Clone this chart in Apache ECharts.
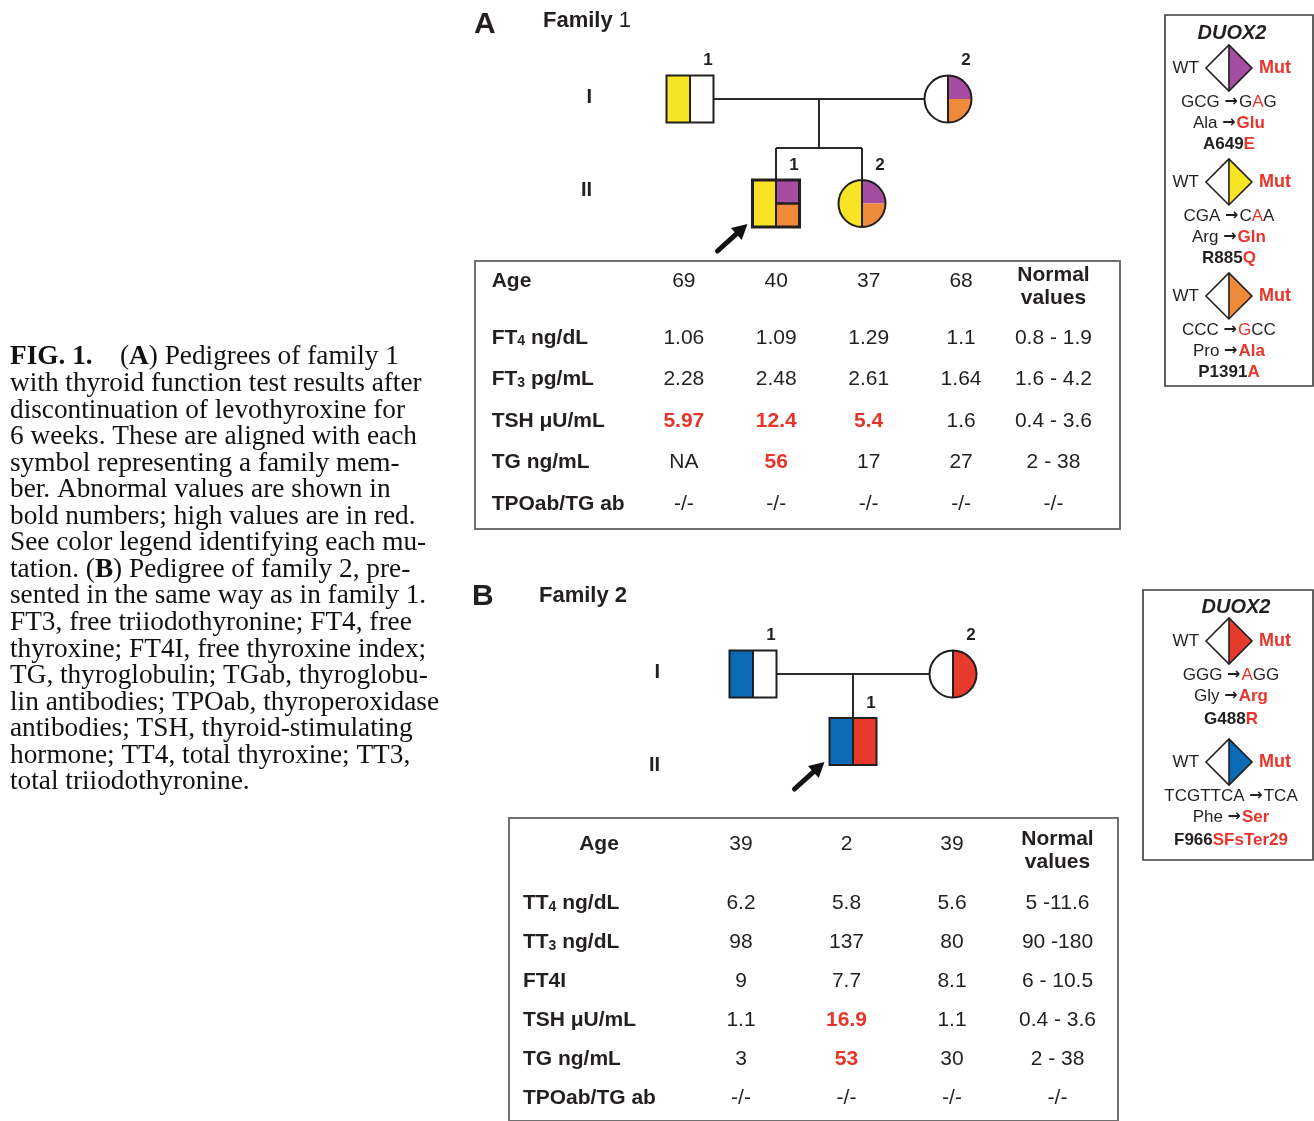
<!DOCTYPE html>
<html>
<head>
<meta charset="utf-8">
<script src="https://cdn.jsdelivr.net/npm/echarts@6/dist/echarts.min.js"></script>
<style>
html,body{margin:0;padding:0;background:#ffffff;}
#chart{width:1314px;height:1121px;}
</style>
</head>
<body>
<div id="chart"></div>
<script>
// ================= DATA =================
const generations = ['I', 'II'];

// Family 1 pedigree members (col = table column of the member, gen = generation index)
const famA_members = [
  { name: 'I-1',  gen: 0, col: 1, sex: 'M', left: 'R885Q', rightTop: null,    rightBottom: null,     num: '1' },
  { name: 'II-1', gen: 1, col: 2, sex: 'M', left: 'R885Q', rightTop: 'A649E', rightBottom: 'P1391A', num: '1', proband: true },
  { name: 'II-2', gen: 1, col: 3, sex: 'F', left: 'R885Q', rightTop: 'A649E', rightBottom: 'P1391A', num: '2' },
  { name: 'I-2',  gen: 0, col: 4, sex: 'F', left: null,    rightTop: 'A649E', rightBottom: 'P1391A', num: '2' }
];
const famA_ages = ['69', '40', '37', '68'];
const famA_tests = ['FT{s|4} ng/dL', 'FT{s|3} pg/mL', 'TSH μU/mL', 'TG ng/mL', 'TPOab/TG ab'];
const famA_values = [
  ['1.06', '1.09', '1.29', '1.1'],
  ['2.28', '2.48', '2.61', '1.64'],
  ['5.97', '12.4', '5.4', '1.6'],
  ['NA', '56', '17', '27'],
  ['-/-', '-/-', '-/-', '-/-']
];
const famA_normal = ['0.8 - 1.9', '1.6 - 4.2', '0.4 - 3.6', '2 - 38', '-/-'];
const famA_upper = [1.9, 4.2, 3.6, 38, null];
const famA_legend = ['A649E', 'R885Q', 'P1391A'];

// Family 2
const famB_members = [
  { name: 'I-1',  gen: 0, col: 1, sex: 'M', left: 'F966SFsTer29', rightTop: null,    rightBottom: null,    num: '1' },
  { name: 'II-1', gen: 1, col: 2, sex: 'M', left: 'F966SFsTer29', rightTop: 'G488R', rightBottom: 'G488R', num: '1', proband: true },
  { name: 'I-2',  gen: 0, col: 3, sex: 'F', left: null,           rightTop: 'G488R', rightBottom: 'G488R', num: '2' }
];
const famB_ages = ['39', '2', '39'];
const famB_tests = ['TT{s|4} ng/dL', 'TT{s|3} ng/dL', 'FT4I', 'TSH μU/mL', 'TG ng/mL', 'TPOab/TG ab'];
const famB_values = [
  ['6.2', '5.8', '5.6'],
  ['98', '137', '80'],
  ['9', '7.7', '8.1'],
  ['1.1', '16.9', '1.1'],
  ['3', '53', '30'],
  ['-/-', '-/-', '-/-']
];
const famB_normal = ['5 -11.6', '90 -180', '6 - 10.5', '0.4 - 3.6', '2 - 38', '-/-'];
const famB_upper = [11.6, 180, 10.5, 3.6, 38, null];
const famB_legend = ['G488R', 'F966SFsTer29'];

// Mutation descriptions ([..] = mutated part, shown in red)
const mutationText = {
  'A649E':        ['GCG → G[A]G', 'Ala → [Glu]', 'A649[E]'],
  'R885Q':        ['CGA → C[A]A', 'Arg → [Gln]', 'R885[Q]'],
  'P1391A':       ['CCC → [G]CC', 'Pro → [Ala]', 'P1391[A]'],
  'G488R':        ['GGG → [A]GG', 'Gly → [Arg]', 'G488[R]'],
  'F966SFsTer29': ['TCGTTCA → TCA', 'Phe → [Ser]', 'F966[SFsTer29]']
};

const captionLines = [
  '{b|FIG. 1.}    ({b|A}) Pedigrees of family 1',
  'with thyroid function test results after',
  'discontinuation of levothyroxine for',
  '6 weeks. These are aligned with each',
  'symbol representing a family mem-',
  'ber. Abnormal values are shown in',
  'bold numbers; high values are in red.',
  'See color legend identifying each mu-',
  'tation. ({b|B}) Pedigree of family 2, pre-',
  'sented in the same way as in family 1.',
  'FT3, free triiodothyronine; FT4, free',
  'thyroxine; FT4I, free thyroxine index;',
  'TG, thyroglobulin; TGab, thyroglobu-',
  'lin antibodies; TPOab, thyroperoxidase',
  'antibodies; TSH, thyroid-stimulating',
  'hormone; TT4, total thyroxine; TT3,',
  'total triiodothyronine.'
];

// ================= STYLE / LAYOUT =================
const STYLE = {
  sans: '"Liberation Sans", Arial, Helvetica, sans-serif',
  serif: '"Liberation Serif", "Times New Roman", serif',
  arrowFont: '"DejaVu Sans", sans-serif',
  ink: '#231f20',
  red: '#e8352b',
  tableBorder: '#707070',
  legendBorder: '#3a3a3a'
};
const MUT_COLOR = {
  'A649E': '#a64ca3',
  'R885Q': '#f6e425',
  'P1391A': '#f08a3b',
  'G488R': '#e63a2c',
  'F966SFsTer29': '#0b6bb6'
};
const LAYOUT = {
  pedA: { grid: { left: 475, top: 99, width: 645, height: 104.5 }, x: [-1.5, 6], genOffset: -125,
          genPad: [[0, 0, 4, 0], [0, 0, 27, 0]], sibFrac: 0.47, size: 47 },
  tabA: { grid: { left: 475, top: 261, width: 645, height: 268 }, x: [-1.26, 5.72], y: [-0.855, 5.60],
          labelCol: -1.08, headerRow: -0.37, headerLabelCol: -1.08, headerLabelAlign: 'left', normalShift: 6 },
  legA: { grid: { left: 1165, top: 15, width: 148, height: 371 }, y: [-0.465, 2.79], diamondX: 0.432,
          lines: [34, 55, 76], textShift: 0 },
  pedB: { grid: { left: 509, top: 674, width: 609, height: 67.5 }, x: [-1.44, 4.65], genOffset: -159,
          genPad: [[0, 0, 4, 0], [47, 0, 0, 0]], sibFrac: 0.5, size: 47 },
  tabB: { grid: { left: 509, top: 818, width: 609, height: 306 }, x: [-1.199, 4.5735], y: [-1.183, 6.584],
          labelCol: -1.067, headerRow: -0.523, headerLabelCol: -0.346, headerLabelAlign: 'center', normalShift: 6.5 },
  legB: { grid: { left: 1143, top: 590, width: 170, height: 270 }, y: [-0.4215, 1.81], diamondX: 0.506,
          lines: [34, 55, 78], textShift: 2 }
};

// ================= RENDER HELPERS =================
function fillOf(k) { return k ? MUT_COLOR[k] : '#ffffff'; }

function memberGraphic(m, cx, cy, size) {
  const h = size / 2, ink = STYLE.ink, lw = 2;
  const ch = [];
  if (m.sex === 'M') {
    ch.push({ type: 'rect', shape: { x: cx - h, y: cy - h, width: h, height: size }, style: { fill: fillOf(m.left) } });
    if (m.rightTop === m.rightBottom) {
      ch.push({ type: 'rect', shape: { x: cx, y: cy - h, width: h, height: size }, style: { fill: fillOf(m.rightTop) } });
    } else {
      ch.push({ type: 'rect', shape: { x: cx, y: cy - h, width: h, height: h }, style: { fill: fillOf(m.rightTop) } });
      ch.push({ type: 'rect', shape: { x: cx, y: cy, width: h, height: h }, style: { fill: fillOf(m.rightBottom) } });
      ch.push({ type: 'line', shape: { x1: cx, y1: cy, x2: cx + h, y2: cy }, style: { stroke: ink, lineWidth: lw + 0.5 } });
    }
    ch.push({ type: 'line', shape: { x1: cx, y1: cy - h, x2: cx, y2: cy + h }, style: { stroke: ink, lineWidth: lw } });
    ch.push({ type: 'rect', shape: { x: cx - h, y: cy - h, width: size, height: size },
              style: { fill: 'transparent', stroke: ink, lineWidth: m.proband && m.rightTop !== m.rightBottom ? 3 : lw } });
  } else {
    const r = h;
    ch.push({ type: 'sector', shape: { cx, cy, r, r0: 0, startAngle: Math.PI / 2, endAngle: Math.PI * 1.5 }, style: { fill: fillOf(m.left) } });
    if (m.rightTop === m.rightBottom) {
      ch.push({ type: 'sector', shape: { cx, cy, r, r0: 0, startAngle: -Math.PI / 2, endAngle: Math.PI / 2 }, style: { fill: fillOf(m.rightTop) } });
    } else {
      ch.push({ type: 'sector', shape: { cx, cy, r, r0: 0, startAngle: Math.PI * 1.5, endAngle: Math.PI * 2 }, style: { fill: fillOf(m.rightTop) } });
      ch.push({ type: 'sector', shape: { cx, cy, r, r0: 0, startAngle: 0, endAngle: Math.PI / 2 }, style: { fill: fillOf(m.rightBottom) } });
    }
    ch.push({ type: 'line', shape: { x1: cx, y1: cy - r, x2: cx, y2: cy + r }, style: { stroke: ink, lineWidth: lw } });
    ch.push({ type: 'circle', shape: { cx, cy, r }, style: { fill: 'transparent', stroke: ink, lineWidth: lw } });
  }
  ch.push({ type: 'text', x: cx + 18, y: cy - h - 15,
            style: { text: m.num, fill: ink, fontSize: 17, fontWeight: 'bold', fontFamily: STYLE.sans, align: 'center', verticalAlign: 'middle' } });
  if (m.proband) {
    const bx = cx - h, by = cy + h;
    const tip = [bx - 5, by - 3], tail = [bx - 35, by + 24];
    const dx = tip[0] - tail[0], dy = tip[1] - tail[1], L = Math.hypot(dx, dy);
    const ux = dx / L, uy = dy / L, nx = -uy, ny = ux;
    const headLen = 15, headW = 8;
    const base = [tip[0] - ux * headLen, tip[1] - uy * headLen];
    ch.push({ type: 'line', shape: { x1: tail[0], y1: tail[1], x2: base[0] + ux * 2, y2: base[1] + uy * 2 },
              style: { stroke: '#111', lineWidth: 5, lineCap: 'round' } });
    ch.push({ type: 'polygon', shape: { points: [tip, [base[0] + nx * headW, base[1] + ny * headW], [base[0] - nx * headW, base[1] - ny * headW]] },
              style: { fill: '#111' } });
  }
  return { type: 'group', children: ch };
}

function pedigreeSeries(members, lay, gi) {
  const size = lay.size, h = size / 2;
  return [
    { // connecting lines
      type: 'custom', xAxisIndex: gi, yAxisIndex: gi, clip: false, silent: true, z: 2,
      data: [[0, 0]],
      renderItem: function (params, api) {
        const parents = members.filter(m => m.gen === 0).sort((a, b) => a.col - b.col);
        const kids = members.filter(m => m.gen === 1);
        const p1 = api.coord([parents[0].col, 0]), p2 = api.coord([parents[1].col, 0]);
        const midCol = (parents[0].col + parents[1].col) / 2;
        const mid = api.coord([midCol, 0]);
        const segs = [[p1[0] + h, p1[1], p2[0] - h, p2[1]]];
        const tops = kids.map(k => { const c = api.coord([k.col, 1]); return [c[0], c[1] - h]; });
        if (kids.length > 1) {
          const sib = api.coord([midCol, lay.sibFrac]);
          segs.push([mid[0], mid[1], mid[0], sib[1]]);
          const xs = tops.map(t => t[0]);
          segs.push([Math.min.apply(null, xs), sib[1], Math.max.apply(null, xs), sib[1]]);
          tops.forEach(t => segs.push([t[0], sib[1], t[0], t[1]]));
        } else {
          segs.push([mid[0], mid[1], tops[0][0], tops[0][1]]);
        }
        return { type: 'group', children: segs.map(s => ({ type: 'line', shape: { x1: s[0], y1: s[1], x2: s[2], y2: s[3] },
                 style: { stroke: '#2a2a2a', lineWidth: 2 } })) };
      }
    },
    { // member symbols
      type: 'custom', xAxisIndex: gi, yAxisIndex: gi, clip: false, silent: true, z: 3,
      data: members.map(m => [m.col, m.gen]),
      renderItem: function (params, api) {
        const m = members[params.dataIndex];
        const c = api.coord([m.col, m.gen]);
        return memberGraphic(m, c[0], c[1], size);
      }
    }
  ];
}

function tableSeries(ages, tests, values, normal, upper, lay, gi) {
  const n = ages.length, cells = [];
  cells.push({ col: lay.headerLabelCol, row: lay.headerRow, text: 'Age', kind: 'label', align: lay.headerLabelAlign });
  ages.forEach((a, i) => cells.push({ col: i + 1, row: lay.headerRow, text: a, kind: 'value' }));
  cells.push({ col: n + 1, row: lay.headerRow, text: 'Normal\nvalues', kind: 'header' });
  tests.forEach((t, r) => {
    cells.push({ col: lay.labelCol, row: r + 1, text: t, kind: 'label', align: 'left' });
    values[r].forEach((v, i) => {
      const high = upper[r] !== null && !isNaN(parseFloat(v)) && parseFloat(v) > upper[r];
      cells.push({ col: i + 1, row: r + 1, text: v, kind: high ? 'high' : 'value' });
    });
    cells.push({ col: n + 1, row: r + 1, text: normal[r], kind: 'value' });
  });
  return {
    type: 'custom', xAxisIndex: gi, yAxisIndex: gi, clip: false, silent: true, z: 3,
    data: cells.map(c => [c.col, c.row]),
    renderItem: function (params, api) {
      const c = cells[params.dataIndex];
      const p = api.coord([c.col, c.row]);
      const st = { text: c.text, fill: STYLE.ink, fontSize: 21, fontFamily: STYLE.sans, fontWeight: 'normal',
                   align: c.align || 'center', verticalAlign: 'middle' };
      let y = p[1];
      if (c.kind === 'label') {
        st.fontWeight = 'bold';
        st.rich = { s: { fontSize: 14, fontWeight: 'bold', fontFamily: STYLE.sans, fill: STYLE.ink, verticalAlign: 'bottom', lineHeight: 14, padding: [12, 0, 0, 0] } };
      } else if (c.kind === 'high') {
        st.fontWeight = 'bold';
        st.fill = STYLE.red;
      } else if (c.kind === 'header') {
        st.fontWeight = 'bold';
        st.lineHeight = 23;
        y += lay.normalShift;
      }
      return { type: 'text', x: p[0], y: y, style: st };
    }
  };
}

function legendMarkup(s) {
  return s.replace(/\[([^\]]+)\]/g, '{r|$1}').replace(/ ?→ ?/g, ' {a|→}');
}

function legendSeries(keys, lay, gi) {
  return {
    type: 'custom', xAxisIndex: gi, yAxisIndex: gi, clip: false, silent: true, z: 3,
    data: keys.map((k, i) => [lay.diamondX, i]),
    renderItem: function (params, api) {
      const key = keys[params.dataIndex];
      const c = api.coord([lay.diamondX, params.dataIndex]);
      const cx = c[0], cy = c[1], d = 23, ink = STYLE.ink;
      const txt = mutationText[key];
      const ch = [
        { type: 'polygon', shape: { points: [[cx - d, cy], [cx, cy - d], [cx, cy + d]] }, style: { fill: '#ffffff' } },
        { type: 'polygon', shape: { points: [[cx, cy - d], [cx + d, cy], [cx, cy + d]] }, style: { fill: MUT_COLOR[key] } },
        { type: 'polygon', shape: { points: [[cx - d, cy], [cx, cy - d], [cx + d, cy], [cx, cy + d]] }, style: { fill: 'transparent', stroke: ink, lineWidth: 1.6 } },
        { type: 'line', shape: { x1: cx, y1: cy - d, x2: cx, y2: cy + d }, style: { stroke: ink, lineWidth: 1.6 } },
        { type: 'text', x: cx - d - 7, y: cy, style: { text: 'WT', fill: ink, fontSize: 17, fontFamily: STYLE.sans, align: 'right', verticalAlign: 'middle' } },
        { type: 'text', x: cx + d + 7, y: cy, style: { text: 'Mut', fill: STYLE.red, fontSize: 18, fontWeight: 'bold', fontFamily: STYLE.sans, align: 'left', verticalAlign: 'middle' } }
      ];
      txt.forEach((line, i) => {
        const bold = i === 2;
        ch.push({ type: 'text', x: cx + lay.textShift, y: cy + lay.lines[i],
          style: { text: legendMarkup(line), fill: ink, fontSize: 17, fontFamily: STYLE.sans, fontWeight: bold ? 'bold' : 'normal',
                   align: 'center', verticalAlign: 'middle',
                   rich: {
                     r: { fill: STYLE.red, fontSize: 17, fontFamily: STYLE.sans, fontWeight: i === 0 ? 'normal' : 'bold' },
                     a: { fill: ink, fontSize: 16, fontFamily: STYLE.arrowFont, fontWeight: 'bold', padding: [0, 1, 0, 0] }
                   } } });
      });
      return { type: 'group', children: ch };
    }
  };
}

function genAxis(lay, gi) {
  return {
    type: 'value', gridIndex: gi, min: 0, max: 1, interval: 1, inverse: true, offset: lay.genOffset,
    axisLine: { show: false }, axisTick: { show: false }, splitLine: { show: false },
    axisLabel: {
      margin: 8, formatter: function (v) { return '{g' + v + '|' + generations[v] + '}'; },
      rich: {
        g0: { fontSize: 20, fontWeight: 'bold', fontFamily: STYLE.sans, color: STYLE.ink, padding: lay.genPad[0] },
        g1: { fontSize: 20, fontWeight: 'bold', fontFamily: STYLE.sans, color: STYLE.ink, padding: lay.genPad[1] }
      }
    }
  };
}
function plainAxis(gi, range, inverse) {
  return { type: 'value', gridIndex: gi, min: range[0], max: range[1], inverse: !!inverse, show: false,
           axisLine: { show: false }, axisTick: { show: false }, splitLine: { show: false }, axisLabel: { show: false } };
}

// ================= OPTION =================
const titleText = (text, left, top, size, extra) => Object.assign({
  text: text, left: left, top: top, padding: 0,
  textStyle: { fontFamily: STYLE.sans, fontSize: size, fontWeight: 'bold', color: STYLE.ink, lineHeight: size,
               rich: { n: { fontFamily: STYLE.sans, fontSize: size, fontWeight: 'normal', color: STYLE.ink, lineHeight: size } } }
}, extra || {});

const option = {
  animation: false,
  backgroundColor: '#ffffff',
  title: [
    titleText('A', 474, 10, 30),
    titleText('Family {n|1}', 543, 10, 22),
    titleText('B', 472, 582, 30),
    titleText('Family 2', 539, 585, 22),
    { text: 'DUOX2', left: 1232, top: 23, padding: 0, textAlign: 'center',
      textStyle: { fontFamily: STYLE.sans, fontSize: 20, fontWeight: 'bold', fontStyle: 'italic', color: STYLE.ink, lineHeight: 20 } },
    { text: 'DUOX2', left: 1236, top: 597, padding: 0, textAlign: 'center',
      textStyle: { fontFamily: STYLE.sans, fontSize: 20, fontWeight: 'bold', fontStyle: 'italic', color: STYLE.ink, lineHeight: 20 } },
    { text: captionLines.join('\n'), left: 10, top: 344, padding: 0,
      textStyle: { fontFamily: STYLE.serif, fontSize: 27.3, fontWeight: 'normal', color: '#111', lineHeight: 26.56,
                   rich: { b: { fontFamily: STYLE.serif, fontSize: 27.3, fontWeight: 'bold', color: '#111', lineHeight: 26.56 } } } }
  ],
  grid: [
    Object.assign({ show: false }, LAYOUT.pedA.grid),
    Object.assign({ show: true, borderColor: STYLE.tableBorder, borderWidth: 2, backgroundColor: 'transparent' }, LAYOUT.tabA.grid),
    Object.assign({ show: true, borderColor: STYLE.legendBorder, borderWidth: 1.6, backgroundColor: 'transparent' }, LAYOUT.legA.grid),
    Object.assign({ show: false }, LAYOUT.pedB.grid),
    Object.assign({ show: true, borderColor: STYLE.tableBorder, borderWidth: 2, backgroundColor: 'transparent' }, LAYOUT.tabB.grid),
    Object.assign({ show: true, borderColor: STYLE.legendBorder, borderWidth: 1.6, backgroundColor: 'transparent' }, LAYOUT.legB.grid)
  ],
  xAxis: [
    plainAxis(0, LAYOUT.pedA.x),
    plainAxis(1, LAYOUT.tabA.x),
    plainAxis(2, [0, 1]),
    plainAxis(3, LAYOUT.pedB.x),
    plainAxis(4, LAYOUT.tabB.x),
    plainAxis(5, [0, 1])
  ],
  yAxis: [
    genAxis(LAYOUT.pedA, 0),
    plainAxis(1, LAYOUT.tabA.y, true),
    plainAxis(2, LAYOUT.legA.y, true),
    genAxis(LAYOUT.pedB, 3),
    plainAxis(4, LAYOUT.tabB.y, true),
    plainAxis(5, LAYOUT.legB.y, true)
  ],
  series: [].concat(
    pedigreeSeries(famA_members, LAYOUT.pedA, 0),
    [tableSeries(famA_ages, famA_tests, famA_values, famA_normal, famA_upper, LAYOUT.tabA, 1)],
    [legendSeries(famA_legend, LAYOUT.legA, 2)],
    pedigreeSeries(famB_members, LAYOUT.pedB, 3),
    [tableSeries(famB_ages, famB_tests, famB_values, famB_normal, famB_upper, LAYOUT.tabB, 4)],
    [legendSeries(famB_legend, LAYOUT.legB, 5)]
  )
};

const chart = echarts.init(document.getElementById('chart'), null, { renderer: 'canvas' });
chart.setOption(option);
</script>
</body>
</html>
